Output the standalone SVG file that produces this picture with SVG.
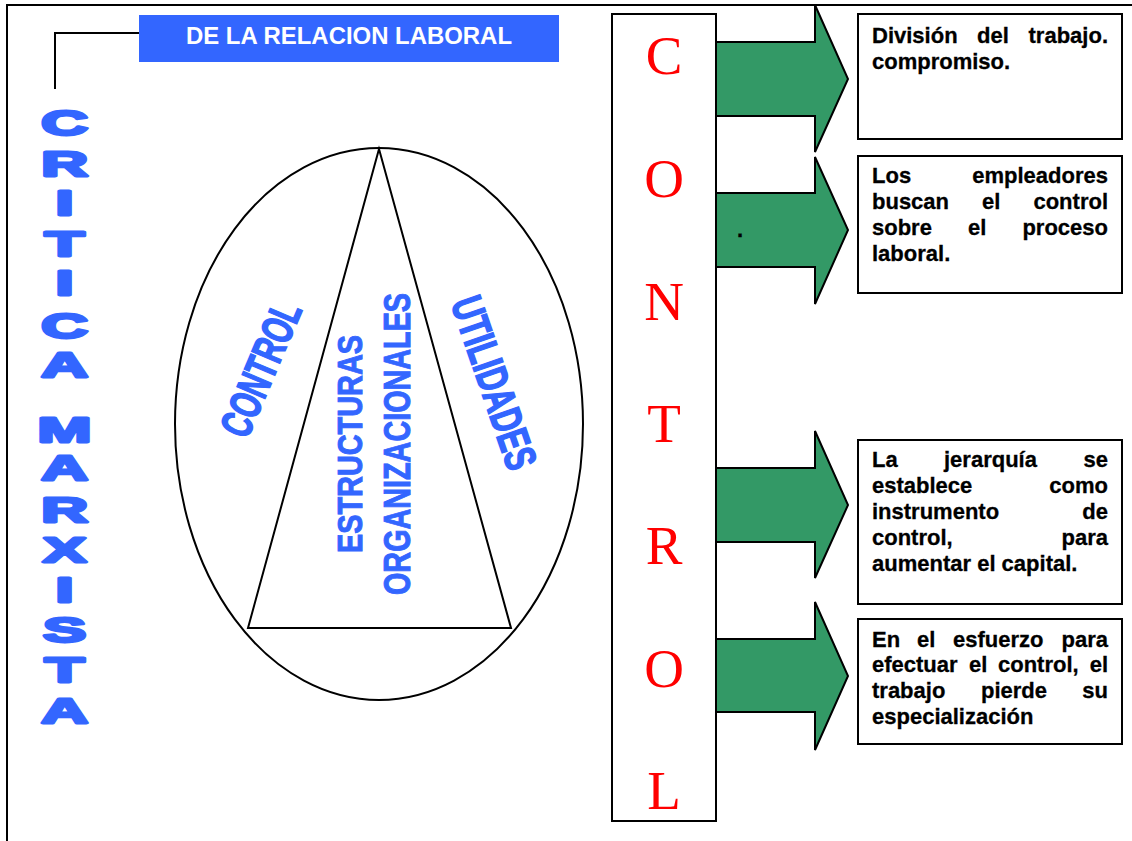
<svg xmlns="http://www.w3.org/2000/svg" width="1132" height="841" viewBox="0 0 1132 841">
<style>
.ln{fill:none;stroke:#000;stroke-width:2}
.box{fill:#fff;stroke:#000;stroke-width:2}
.arrow{fill:#339966;stroke:#000;stroke-width:2;stroke-linejoin:miter}
.big{font-family:"Liberation Sans",Arial,sans-serif;font-weight:bold;font-size:35px;fill:#3366FF;stroke:#3366FF;stroke-width:2.8;stroke-linejoin:round;text-anchor:middle}
.rot{font-family:"Liberation Sans",Arial,sans-serif;font-weight:bold;fill:#3366FF;stroke:#3366FF;text-anchor:middle}
.red{font-family:"Liberation Serif","Times New Roman",serif;font-size:55px;fill:#FF0000;text-anchor:middle}
.bt{font-family:"Liberation Sans",Arial,sans-serif;font-weight:bold;font-size:22px;fill:#000;stroke:#000;stroke-width:0.3}
.end{text-anchor:end}
.hdr{font-family:"Liberation Sans",Arial,sans-serif;font-weight:bold;font-size:23px;fill:#fff;text-anchor:middle}
</style>
<rect x="0" y="0" width="1132" height="841" fill="#fff"/>
<rect class="ln" x="7" y="5" width="1150" height="860"/>

<g id="connectors">
<polyline class="ln" points="139,33 55,33 55,89"/>
<path class="arrow" d="M716,42 H815 V5 L848,79 L815,152 V116 H716 Z"/>
<path class="arrow" d="M716,193 H815 V157 L848,230 L815,304 V267 H716 Z"/>
<path class="arrow" d="M716,468 H815 V431 L848,505 L815,578 V542 H716 Z"/>
<path class="arrow" d="M716,639 H815 V602 L848,676 L815,750 V712 H716 Z"/>
<text class="bt" x="737" y="237">.</text>
</g>

<g id="header">
<rect x="139" y="15" width="420" height="47" fill="#3366FF"/>
<text class="hdr" x="349" y="44" textLength="326" lengthAdjust="spacingAndGlyphs">DE LA RELACION LABORAL</text>
</g>

<g id="critica-marxista" transform="translate(64.5 0) scale(1.85 1)">
<text class="big" x="0" y="135">C</text>
<text class="big" x="0" y="176">R</text>
<text class="big" x="0" y="215">I</text>
<text class="big" x="0" y="256">T</text>
<text class="big" x="0" y="295">I</text>
<text class="big" x="0" y="338">C</text>
<text class="big" x="0" y="377">A</text>
<text class="big" x="0" y="442">M</text>
<text class="big" x="0" y="480">A</text>
<text class="big" x="0" y="522">R</text>
<text class="big" x="0" y="562">X</text>
<text class="big" x="0" y="602">I</text>
<text class="big" x="0" y="642">S</text>
<text class="big" x="0" y="682">T</text>
<text class="big" x="0" y="723">A</text>
</g>

<g id="ellipse-diagram">
<ellipse class="ln" cx="379" cy="424" rx="204" ry="276"/>
<polygon class="ln" points="379,149 248,628 511,628"/>
<text class="rot" transform="translate(261 369) rotate(-67)" x="0" y="15" font-size="44" stroke-width="1.6" textLength="142" lengthAdjust="spacingAndGlyphs">CONTROL</text>
<text class="rot" transform="translate(494 383) rotate(71)" x="0" y="15" font-size="44" stroke-width="1.6" textLength="180" lengthAdjust="spacingAndGlyphs">UTILIDADES</text>
<text class="rot" transform="translate(349.5 444) rotate(-90)" x="0" y="12.5" font-size="35" stroke-width="1" textLength="218" lengthAdjust="spacingAndGlyphs">ESTRUCTURAS</text>
<text class="rot" transform="translate(396.5 444) rotate(-90)" x="0" y="13.5" font-size="37" stroke-width="1" textLength="302" lengthAdjust="spacingAndGlyphs">ORGANIZACIONALES</text>
</g>

<g id="control-column">
<rect class="box" x="612" y="14" width="104" height="807"/>
<text class="red" x="664" y="74">C</text>
<text class="red" x="664" y="197">O</text>
<text class="red" x="664" y="320">N</text>
<text class="red" x="664" y="442">T</text>
<text class="red" x="664" y="564">R</text>
<text class="red" x="664" y="687">O</text>
<text class="red" x="664" y="809">L</text>
</g>

<g id="box1">
<rect class="box" x="858" y="14" width="264" height="125"/>
<text class="bt" x="872" y="43">División</text>
<text class="bt" x="977" y="43">del</text>
<text class="bt end" x="1108" y="43">trabajo.</text>
<text class="bt" x="872" y="69">compromiso.</text>
</g>

<g id="box2">
<rect class="box" x="858" y="156" width="264" height="137"/>
<text class="bt" x="872" y="183">Los</text>
<text class="bt end" x="1108" y="183">empleadores</text>
<text class="bt" x="872" y="209">buscan</text>
<text class="bt" x="982" y="209">el</text>
<text class="bt end" x="1108" y="209">control</text>
<text class="bt" x="872" y="235">sobre</text>
<text class="bt" x="968" y="235">el</text>
<text class="bt end" x="1108" y="235">proceso</text>
<text class="bt" x="872" y="261">laboral.</text>
</g>

<g id="box3">
<rect class="box" x="858" y="440" width="264" height="164"/>
<text class="bt" x="872" y="467">La</text>
<text class="bt" x="944" y="467">jerarquía</text>
<text class="bt end" x="1108" y="467">se</text>
<text class="bt" x="872" y="493">establece</text>
<text class="bt end" x="1108" y="493">como</text>
<text class="bt" x="872" y="519">instrumento</text>
<text class="bt end" x="1108" y="519">de</text>
<text class="bt" x="872" y="545">control,</text>
<text class="bt end" x="1108" y="545">para</text>
<text class="bt" x="872" y="571">aumentar el capital.</text>
</g>

<g id="box4">
<rect class="box" x="858" y="619" width="264" height="125"/>
<text class="bt" x="872" y="647">En</text>
<text class="bt" x="917" y="647">el</text>
<text class="bt" x="953" y="647">esfuerzo</text>
<text class="bt end" x="1108" y="647">para</text>
<text class="bt" x="872" y="672">efectuar</text>
<text class="bt" x="969" y="672">el</text>
<text class="bt" x="998" y="672">control,</text>
<text class="bt end" x="1108" y="672">el</text>
<text class="bt" x="872" y="698">trabajo</text>
<text class="bt" x="981" y="698">pierde</text>
<text class="bt end" x="1108" y="698">su</text>
<text class="bt" x="872" y="724">especialización</text>
</g>
</svg>
